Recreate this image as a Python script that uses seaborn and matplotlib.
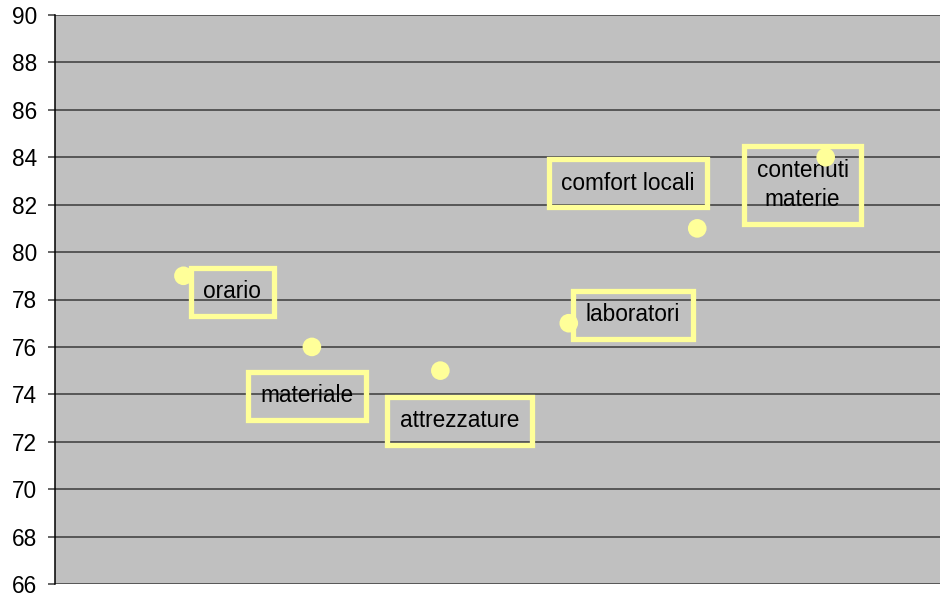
import matplotlib
matplotlib.use("Agg")
import matplotlib.pyplot as plt
import pandas as pd
import seaborn as sns

# data
categories = ["orario", "materiale", "attrezzature", "laboratori", "comfort locali", "contenuti materie"]
x_pos = [1, 2, 3, 4, 5, 6]
scores = [79, 76, 75, 77, 81, 84]
label_text = ["orario", "materiale", "attrezzature", "laboratori", "comfort locali", "contenuti\nmaterie"]
# where the (moved) data labels sit, in data units
label_x = [1.38, 1.96, 3.15, 4.50, 4.46, 5.82]
label_y = [78.32, 73.93, 72.88, 77.35, 82.91, 82.83]
y_ticks = list(range(66, 91, 2))

df = pd.DataFrame({"cat": categories, "x": x_pos, "score": scores})

sns.set_style("white")
plt.rcParams["font.family"] = ["Liberation Sans", "DejaVu Sans"]

fig = plt.figure(figsize=(9.4, 5.97), dpi=100)
ax = fig.add_axes([55 / 940, 1 - 584 / 597, 1 - 55 / 940, (584 - 15) / 597])
ax.set_facecolor("#C0C0C0")

yellow = "#FFFF99"
for lx, ly, txt in zip(label_x, label_y, label_text):
    ax.text(lx, ly, txt, ha="center", va="center", fontsize=16.3, color="black",
            linespacing=1.35, zorder=3,
            bbox=dict(boxstyle="square,pad=0.55", facecolor="none",
                      edgecolor=yellow, linewidth=3.8))

sns.scatterplot(data=df, x="x", y="score", ax=ax, s=180, color=yellow,
                edgecolor="none", linewidth=0, zorder=4, legend=False)

ax.set_xlim(0, 6.89)
ax.set_ylim(66, 90)
ax.set_yticks(y_ticks)
ax.set_xticks([])
ax.set_xlabel("")
ax.set_ylabel("")
ax.yaxis.grid(True, color="#3a3a3a", linewidth=1.1)
ax.set_axisbelow(True)
ax.tick_params(axis="y", length=5, width=1.1, color="#3a3a3a", pad=8,
               labelsize=16.3, labelcolor="black", left=True)
for side in ["top", "right", "bottom"]:
    ax.spines[side].set_visible(False)
ax.spines["left"].set_color("black")
ax.spines["left"].set_linewidth(1.1)

fig.savefig("out.png", dpi=100)
